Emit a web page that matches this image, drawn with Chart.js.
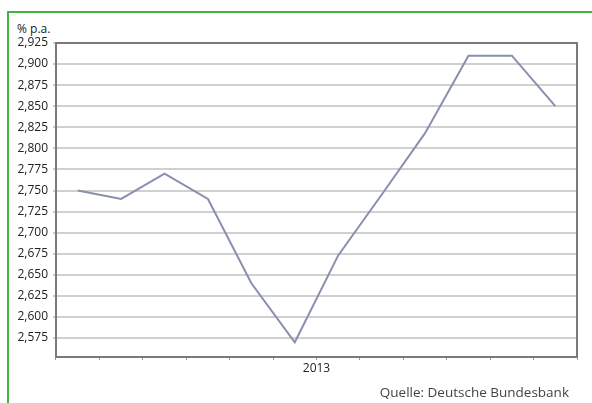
<!DOCTYPE html>
<html>
<head>
<meta charset="utf-8">
<script src="https://cdn.jsdelivr.net/npm/chart.js"></script>
<style>
  html, body { margin: 0; padding: 0; background: #fff; }
  #wrap { position: relative; width: 592px; height: 403px; overflow: hidden; font-family: "Open Sans", sans-serif; }
  #frame { position: absolute; left: 7px; top: 11px; right: -5px; bottom: -5px; border-left: 2px solid #3fb53f; border-top: 2px solid #3fb53f; }
  #unit { position: absolute; left: 17px; top: 20px; font-size: 12px; color: #222; }
  #source { position: absolute; right: 23px; top: 383px; font-size: 13.5px; color: #444; }
  canvas { position: absolute; left: 0; top: 0; }
</style>
</head>
<body>
<div id="wrap">
  <div id="frame"></div>
  <div id="unit">% p.a.</div>
  <canvas id="rateChart" width="592" height="403"></canvas>
  <div id="source">Quelle: Deutsche Bundesbank</div>
</div>
<script>
const months = ['Jan', 'Feb', 'Mär', 'Apr', 'Mai', 'Jun', 'Jul', 'Aug', 'Sep', 'Okt', 'Nov', 'Dez'];
const rates = [2.75, 2.74, 2.77, 2.74, 2.64, 2.57, 2.673, 2.745, 2.818, 2.91, 2.91, 2.85];
const yTicks = [2.575, 2.6, 2.625, 2.65, 2.675, 2.7, 2.725, 2.75, 2.775, 2.8, 2.825, 2.85, 2.875, 2.9, 2.925];
const yearLabel = '2013';

// Rahmen um den Plotbereich (oben und rechts)
const boxPlugin = {
    id: 'box',
    afterDraw(chart) {
        const {ctx, chartArea} = chart;
        ctx.save();
        ctx.strokeStyle = '#7a7a7a';
        ctx.lineWidth = 2;
        ctx.strokeRect(chartArea.left, chartArea.top, chartArea.right - chartArea.left, chartArea.bottom - chartArea.top);
        ctx.restore();
    }
};

new Chart(document.getElementById('rateChart'), {
    type: 'line',
    plugins: [boxPlugin],
    data: {
        labels: months,
        datasets: [{
            data: rates,
            borderColor: '#8890ae',
            borderWidth: 2,
            pointRadius: 0,
            tension: 0
        }]
    },
    options: {
        responsive: false,
        animation: false,
        layout: { padding: { top: 43, right: 15, bottom: 24, left: 0 } },
        plugins: { legend: { display: false }, tooltip: { enabled: false } },
        scales: {
            x: {
                offset: true,
                afterFit: scale => { scale.height = 22; },
                grid: { offset: true, drawOnChartArea: false, drawTicks: true, tickLength: 3, color: '#999', lineWidth: 1 },
                border: { color: '#7a7a7a', width: 2 },
                ticks: { callback: () => '', padding: 0 },
                title: { display: true, text: yearLabel, color: '#222', font: { family: 'Open Sans', size: 12 }, padding: { top: 0, bottom: 3 } }
            },
            y: {
                min: 2.5525,
                max: 2.925,
                afterFit: scale => { scale.width = 56; },
                afterBuildTicks: axis => { axis.ticks = yTicks.map(v => ({ value: v })); },
                grid: { color: '#d0d0d0', lineWidth: 2, tickLength: 3 },
                border: { color: '#7a7a7a', width: 2 },
                ticks: {
                    color: '#222',
                    padding: 5,
                    font: { family: 'Open Sans', size: 12 },
                    callback: v => v.toFixed(3).replace('.', ',')
                }
            }
        }
    }
});
</script>
</body>
</html>
